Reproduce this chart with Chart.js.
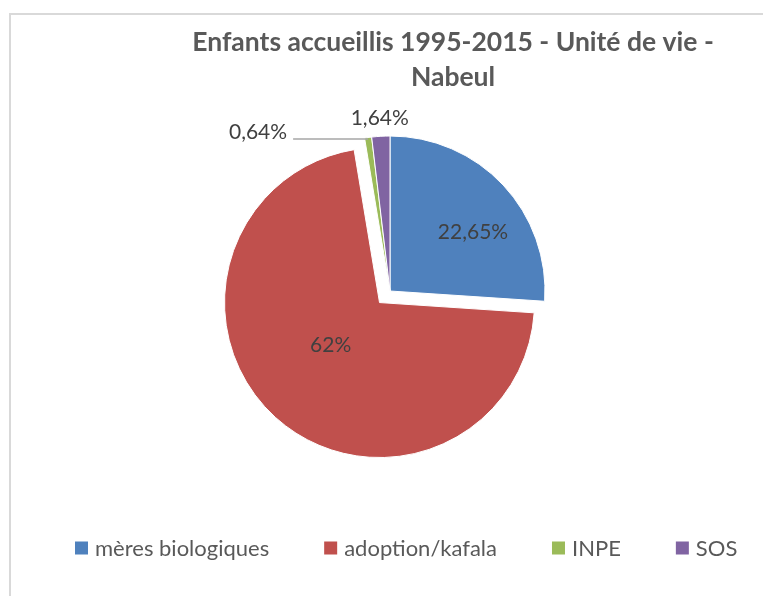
<!DOCTYPE html>
<html lang="fr">
<head>
<meta charset="utf-8">
<title>Enfants accueillis 1995-2015 - Unité de vie - Nabeul</title>
<script src="https://cdn.jsdelivr.net/npm/chart.js@4.4.1/dist/chart.umd.min.js"></script>
<style>
    html, body { margin: 0; padding: 0; background: #ffffff; overflow: hidden; }
    .frame {
        position: absolute; left: 9px; top: 13px; width: 900px; height: 700px;
        border-top: 2px solid #d9d9d9; border-left: 2px solid #d9d9d9;
    }
    .chart-box { position: absolute; left: 0; top: 0; width: 763px; height: 596px; }
</style>
</head>
<body>
<div class="frame"></div>
<div class="chart-box"><canvas id="pieChart" width="763" height="596"></canvas></div>
<script>
// Values
const titleLines = ['Enfants accueillis 1995-2015 - Unité de vie -', 'Nabeul'];
const categories = ['mères biologiques', 'adoption/kafala', 'INPE', 'SOS'];
const percentages = [22.65, 62, 0.64, 1.64];

// Office 2007 palette
const sliceColors = ['#4F81BD', '#C0504D', '#9BBB59', '#8064A2'];
const FONT = 'Lato, "Open Sans", sans-serif';

function formatPct(v) {
    return String(v).replace('.', ',') + '%';
}

// Pull a slice out of the pie without growing its radius
// (the built-in offset enlarges slices wider than 180deg)
const explodeSlices = {
    id: 'explodeSlices',
    afterDatasetUpdate(chart, args, opts) {
        args.meta.data.forEach((arc, i) => {
            const d = opts.distances[i] || 0;
            if (!d) return;
            const mid = (arc.startAngle + arc.endAngle) / 2;
            arc.x += Math.cos(mid) * d;
            arc.y += Math.sin(mid) * d;
        });
    }
};

// Excel-like title, centred on its own axis
const excelTitle = {
    id: 'excelTitle',
    afterDraw(chart, args, opts) {
        const ctx = chart.ctx;
        ctx.save();
        ctx.font = opts.font;
        ctx.fillStyle = opts.color;
        ctx.textAlign = 'center';
        ctx.textBaseline = 'alphabetic';
        opts.lines.forEach((line, i) => ctx.fillText(line, opts.x, opts.y + i * opts.lineHeight));
        ctx.restore();
    }
};

// Percent labels on / next to the slices
const sliceLabels = {
    id: 'sliceLabels',
    afterDatasetsDraw(chart, args, opts) {
        const ctx = chart.ctx;
        const meta = chart.getDatasetMeta(0);
        const values = chart.data.datasets[0].data;
        ctx.save();
        ctx.font = opts.font;
        ctx.fillStyle = opts.color;
        meta.data.forEach((arc, i) => {
            const p = arc.getProps(['x', 'y', 'startAngle', 'endAngle', 'outerRadius'], true);
            const mid = (p.startAngle + p.endAngle) / 2;
            const text = formatPct(values[i]);
            const place = opts.placement[i];

            if (place.mode === 'inside') {
                const a = mid + place.turn * Math.PI / 180;
                const r = p.outerRadius * place.r;
                ctx.textAlign = 'center';
                ctx.textBaseline = 'middle';
                ctx.fillText(text, p.x + Math.cos(a) * r, p.y + Math.sin(a) * r);
            } else if (place.mode === 'outside') {
                const r = p.outerRadius + place.gap;
                ctx.textAlign = 'center';
                ctx.textBaseline = 'middle';
                ctx.fillText(text, p.x + Math.cos(mid) * r, p.y + Math.sin(mid) * r);
            } else {
                // leader line going left to the label
                const ex = p.x + Math.cos(mid) * p.outerRadius;
                const ey = p.y + Math.sin(mid) * p.outerRadius + 1.5;
                const lx = ex + place.dx;
                ctx.strokeStyle = opts.lineColor;
                ctx.lineWidth = 1.5;
                ctx.beginPath();
                ctx.moveTo(ex, ey);
                ctx.lineTo(lx, ey);
                ctx.stroke();
                ctx.textAlign = 'right';
                ctx.textBaseline = 'alphabetic';
                ctx.fillText(text, lx - 6, ey);
            }
        });
        ctx.restore();
    }
};

// Legend in one row with Excel spacing
const excelLegend = {
    id: 'excelLegend',
    afterDraw(chart, args, opts) {
        const ctx = chart.ctx;
        const colors = chart.data.datasets[0].backgroundColor;
        let x = opts.x;
        ctx.save();
        ctx.font = opts.font;
        ctx.textAlign = 'left';
        ctx.textBaseline = 'middle';
        chart.data.labels.forEach((label, i) => {
            ctx.fillStyle = colors[i];
            ctx.fillRect(x, opts.y - opts.box / 2, opts.box, opts.box);
            ctx.fillStyle = opts.color;
            const tx = x + opts.box + opts.textGap;
            ctx.fillText(label, tx, opts.y + 1);
            x = tx + ctx.measureText(label).width + opts.itemGap;
        });
        ctx.restore();
    }
};

const chart = new Chart(document.getElementById('pieChart'), {
    type: 'pie',
    data: {
        labels: categories,
        datasets: [{
            data: percentages,
            backgroundColor: sliceColors,
            borderColor: '#ffffff',
            borderWidth: 1,
            radius: 155
        }]
    },
    options: {
        responsive: false,
        animation: false,
        events: [],
        layout: { padding: { left: 200, right: 183, top: 120, bottom: 134 } },
        plugins: {
            legend: { display: false },
            tooltip: { enabled: false },
            title: { display: false },
            explodeSlices: { distances: [0, 15.6, 0, 0] },
            excelTitle: {
                lines: titleLines,
                x: 453,
                y: 51,
                lineHeight: 35,
                font: 'bold 26.5px ' + FONT,
                color: '#595959'
            },
            sliceLabels: {
                font: '21px ' + FONT,
                color: '#404040',
                lineColor: '#a6a6a6',
                placement: [
                    { mode: 'inside', r: 0.657, turn: 7.7 },
                    { mode: 'inside', r: 0.42, turn: 6.5 },
                    { mode: 'leader', dx: -75 },
                    { mode: 'outside', gap: 18 }
                ]
            },
            excelLegend: {
                x: 75,
                y: 548,
                box: 13,
                textGap: 7,
                itemGap: 55,
                font: '22px ' + FONT,
                color: '#595959'
            }
        }
    },
    plugins: [explodeSlices, excelTitle, sliceLabels, excelLegend]
});
</script>
</body>
</html>
